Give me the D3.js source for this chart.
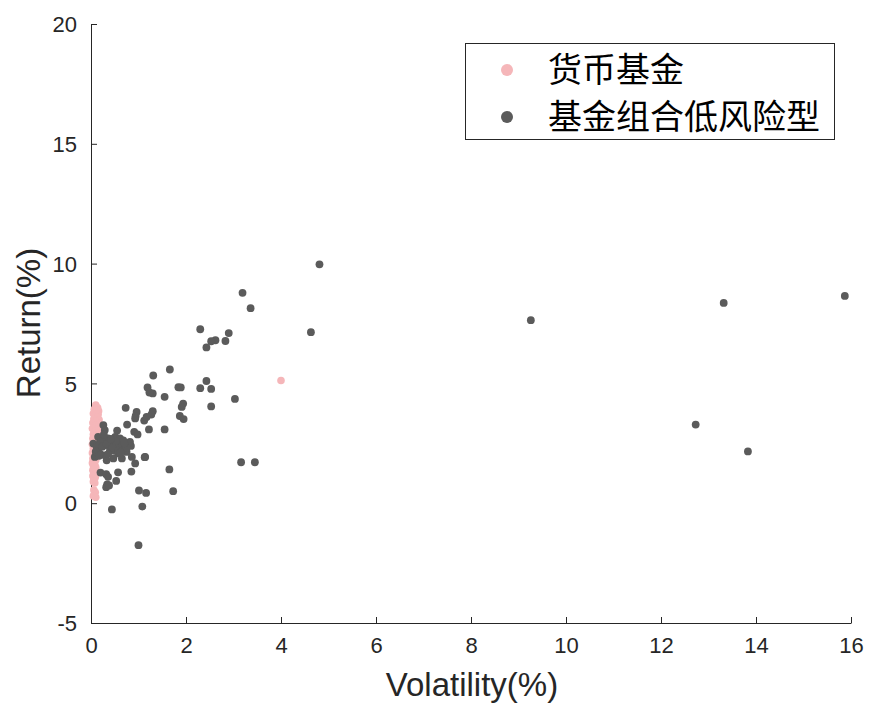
<!DOCTYPE html>
<html>
<head>
<meta charset="utf-8">
<script src="https://cdn.jsdelivr.net/npm/d3@7"></script>
<style>
  html, body { margin: 0; padding: 0; background: #ffffff; }
  svg { display: block; }
</style>
</head>
<body>
<svg id="chart" width="870" height="706"></svg>
<script>
// ---- Data ----
const seriesNames = ["货币基金", "基金组合低风险型"];
const xTicks = [0, 2, 4, 6, 8, 10, 12, 14, 16];
const yTicks = [-5, 0, 5, 10, 15, 20];

// 货币基金 (money market funds)
const pinkX = [0.10,0.14,0.07,0.16,0.11,0.05,0.15,0.09,0.13,0.06,0.17,0.10,0.04,0.14,0.08,0.12,0.03,0.15,0.07,0.10,
  0.05,0.13,0.09,0.04,0.11,0.07,0.10,0.03,0.08,0.12,0.05,0.09,0.07,0.03,0.10,0.06,0.08,0.04,0.10,0.07,
  0.03,0.08,0.05,0.10,0.07,0.04,0.09,0.06,0.08,0.04,0.09,0.06,0.07,0.05,0.08,0.06,0.09,0.07,0.05,0.10,0.12,
  4.00];
const pinkY = [4.10,3.98,3.92,3.85,3.80,3.74,3.70,3.65,3.58,3.52,3.48,3.42,3.36,3.30,3.24,3.18,3.12,3.06,3.00,2.94,
  2.88,2.82,2.76,2.70,2.64,2.58,2.52,2.46,2.40,2.34,2.28,2.22,2.16,2.10,2.04,1.98,1.92,1.86,1.80,1.74,
  1.68,1.62,1.56,1.50,1.44,1.38,1.32,1.26,1.20,1.14,1.08,1.02,0.96,0.90,0.84,0.55,0.46,0.38,0.30,0.25,3.90,
  5.12];

// 基金组合低风险型 (low-risk fund portfolios)
const grayX = [4.81,3.19,3.36,4.63,9.26,13.32,15.87,12.73,13.83,2.30,2.90,2.62,2.53,2.83,2.43,1.66,1.31,
  1.84,1.89,1.30,1.55,2.43,2.30,2.53,3.03,1.94,1.91,1.30,1.27,1.87,1.95,2.53,1.55,3.16,3.45,1.65,
  1.19,1.23,0.73,0.96,0.94,0.93,1.12,1.17,1.22,0.76,0.26,0.29,0.55,0.91,0.98,
  0.15,0.05,0.15,0.26,0.36,0.44,0.54,0.65,0.72,0.79,0.82,0.75,0.57,0.47,0.29,0.19,0.08,0.65,0.86,1.14,0.93,
  0.29,0.40,0.19,0.51,0.61,0.33,0.81,0.84,0.75,0.12,0.22,0.38,0.48,0.68,
  0.10,0.24,0.33,0.45,0.58,0.70,0.17,0.36,0.52,0.62,0.42,0.27,
  0.20,0.57,0.85,0.32,0.36,0.53,0.34,0.32,1.01,1.16,1.08,0.44,1.00,1.73,1.13,0.38];
const grayY = [9.97,8.78,8.14,7.14,7.64,8.36,8.65,3.28,2.16,7.26,7.10,6.80,6.76,6.77,6.50,5.58,5.33,
  4.84,4.83,4.58,4.44,5.10,4.80,4.77,4.35,4.16,4.02,3.84,3.70,3.64,3.51,4.04,3.08,1.71,1.71,1.41,
  4.83,4.62,3.98,3.81,3.64,3.54,3.45,3.60,3.08,3.28,3.26,3.05,3.03,2.98,2.87,
  2.77,2.49,2.28,2.63,2.70,2.56,2.42,2.42,2.28,2.42,2.56,2.14,2.07,1.87,2.00,2.07,1.93,1.87,1.93,1.93,1.66,
  2.42,2.21,2.56,2.77,2.70,1.79,2.52,2.39,2.31,2.35,2.60,2.50,2.20,2.62,
  2.15,2.36,2.48,2.32,2.18,2.50,1.98,2.05,2.60,2.12,2.68,2.86,
  1.28,1.29,1.32,1.21,1.10,0.93,0.78,0.67,0.53,0.43,-0.14,-0.26,-1.75,0.50,1.92,0.74];

// ---- Layout ----
const svg = d3.select("#chart");
const x = d3.scaleLinear().domain([0, 16]).range([91, 851]);
const y = d3.scaleLinear().domain([-5, 20]).range([623, 24]);
const axisColor = "#262626";
const pinkColor = "#F5B6B9";
const grayColor = "#5B5B5B";
const fontLatin = "'Liberation Sans', Arial, sans-serif";
const fontCJK = "'Noto Sans CJK SC', sans-serif";
const fmt = d => String(d); // plain hyphen-minus like the reference

svg.append("rect").attr("width", 870).attr("height", 706).attr("fill", "#fff");

// axes
const xAxis = d3.axisBottom(x).tickValues(xTicks).tickSizeInner(-6).tickSizeOuter(0).tickPadding(14).tickFormat(fmt);
const yAxis = d3.axisLeft(y).tickValues(yTicks).tickSizeInner(-6).tickSizeOuter(0).tickPadding(14).tickFormat(fmt);

const gx = svg.append("g").attr("transform", "translate(0,623)").call(xAxis);
const gy = svg.append("g").attr("transform", "translate(91,0)").call(yAxis);
[gx, gy].forEach(g => {
  g.select(".domain").attr("stroke", axisColor).attr("stroke-width", 1);
  g.selectAll(".tick line").attr("stroke", axisColor).attr("stroke-width", 1);
  g.selectAll(".tick text").attr("fill", axisColor).attr("font-family", fontLatin).attr("font-size", 22);
});
gy.selectAll(".tick text").attr("dy", "0.35em");

// points
const pinkData = pinkX.map((v, i) => ({ x: v, y: pinkY[i] }));
const grayData = grayX.map((v, i) => ({ x: v, y: grayY[i] }));

svg.append("g").selectAll("circle").data(pinkData).join("circle")
  .attr("cx", d => x(d.x)).attr("cy", d => y(d.y)).attr("r", 3.8).attr("fill", pinkColor);
svg.append("g").selectAll("circle").data(grayData).join("circle")
  .attr("cx", d => x(d.x)).attr("cy", d => y(d.y)).attr("r", 3.9).attr("fill", grayColor);

// axis titles
svg.append("text").attr("x", 472).attr("y", 696).attr("text-anchor", "middle")
  .attr("font-family", fontLatin).attr("font-size", 33).attr("fill", axisColor).text("Volatility(%)");
svg.append("text").attr("transform", "translate(40,323) rotate(-90)").attr("text-anchor", "middle")
  .attr("font-family", fontLatin).attr("font-size", 33).attr("fill", axisColor).text("Return(%)");

// legend
const lg = svg.append("g");
lg.append("rect").attr("x", 465.5).attr("y", 43.5).attr("width", 369).attr("height", 96)
  .attr("fill", "#fff").attr("stroke", axisColor).attr("stroke-width", 1);
const legendColors = [pinkColor, grayColor];
seriesNames.forEach((name, i) => {
  const cy = 70 + i * 47;
  lg.append("circle").attr("cx", 507).attr("cy", cy).attr("r", 6).attr("fill", legendColors[i]);
  lg.append("text").attr("x", 548).attr("y", cy).attr("dy", "0.36em")
    .attr("font-family", fontCJK).attr("font-size", 34).attr("fill", "#000").text(name);
});
</script>
</body>
</html>
